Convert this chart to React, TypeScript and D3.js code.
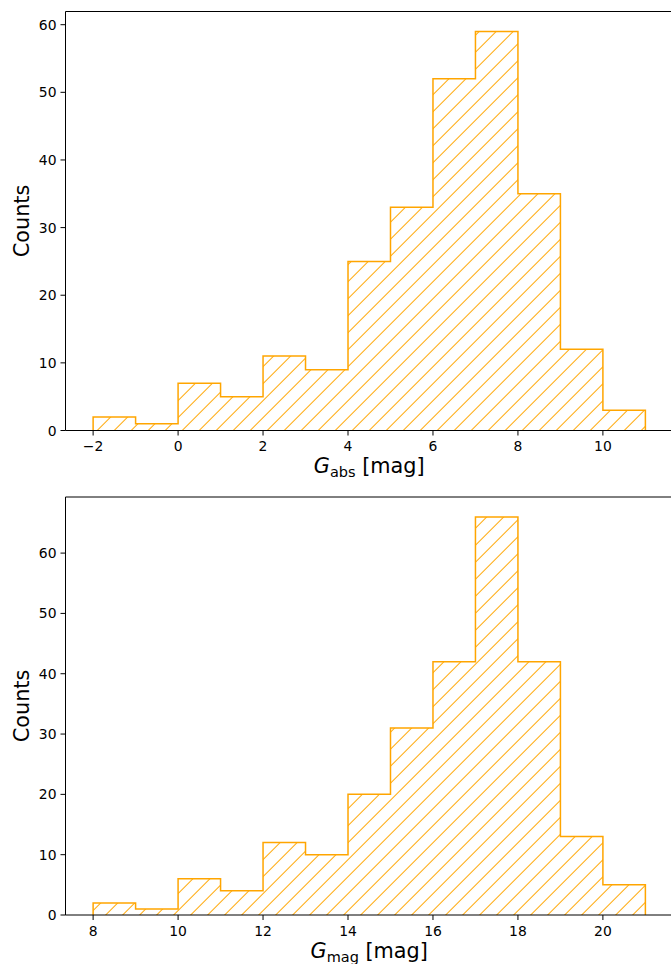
import React from "react";
import * as d3 from "d3";

// Top panel: absolute G magnitude histogram
const absEdges = [-2, -1, 0, 1, 2, 3, 4, 5, 6, 7, 8, 9, 10, 11];
const absCounts = [2, 1, 7, 5, 11, 9, 25, 33, 52, 59, 35, 12, 3];
const absXTicks = [-2, 0, 2, 4, 6, 8, 10];
const absYTicks = [0, 10, 20, 30, 40, 50, 60];

// Bottom panel: apparent G magnitude histogram
const magEdges = [8, 9, 10, 11, 12, 13, 14, 15, 16, 17, 18, 19, 20, 21];
const magCounts = [2, 1, 6, 4, 12, 10, 20, 31, 42, 66, 42, 13, 5];
const magXTicks = [8, 10, 12, 14, 16, 18, 20];
const magYTicks = [0, 10, 20, 30, 40, 50, 60];

const W = 671;
const H = 964;
const ORANGE = "#FFA500";
const FONT = "'DejaVu Sans', sans-serif";

type PanelProps = {
  edges: number[];
  counts: number[];
  xTicks: number[];
  yTicks: number[];
  top: number;
  bottom: number;
  sub: string;
};

function Panel({ edges, counts, xTicks, yTicks, top, bottom, sub }: PanelProps) {
  const left = 65.5;
  const right = 673;
  const lo = edges[0];
  const hi = edges[edges.length - 1];
  const m = (hi - lo) * 0.05;
  const x = d3.scaleLinear().domain([lo - m, hi + m]).range([left, right]);
  const ymax = d3.max(counts)! * 1.05;
  const y = d3.scaleLinear().domain([0, ymax]).range([bottom, top]);

  const pts: [number, number][] = [[x(edges[0]), y(0)]];
  counts.forEach((c, i) => {
    pts.push([x(edges[i]), y(c)]);
    pts.push([x(edges[i + 1]), y(c)]);
  });
  pts.push([x(hi), y(0)]);
  const line = d3.line();
  const d = line(pts)!;

  const cx = (left + right) / 2;
  const cy = (top + bottom) / 2;

  return (
    <g>
      <path d={d + "Z"} fill="url(#hatch)" stroke="none" />
      <path d={d} fill="none" stroke={ORANGE} strokeWidth={1.5} strokeLinejoin="miter" />
      {/* spines */}
      <line x1={left} x2={left} y1={top} y2={bottom} stroke="#000" strokeWidth={1} />
      <line x1={left} x2={right} y1={top} y2={top} stroke="#000" strokeWidth={1} />
      <line x1={left} x2={right} y1={bottom} y2={bottom} stroke="#000" strokeWidth={1} />
      {xTicks.map((t) => (
        <g key={"x" + t}>
          <line x1={x(t)} x2={x(t)} y1={bottom} y2={bottom + 5} stroke="#000" strokeWidth={1} />
          <text x={x(t)} y={bottom + 20.5} textAnchor="middle" fontSize={13.9} fontFamily={FONT} fill="#000">
            {t < 0 ? "\u2212" + Math.abs(t) : String(t)}
          </text>
        </g>
      ))}
      {yTicks.map((t) => (
        <g key={"y" + t}>
          <line x1={left - 5} x2={left} y1={y(t)} y2={y(t)} stroke="#000" strokeWidth={1} />
          <text x={left - 9} y={y(t) + 5} textAnchor="end" fontSize={13.9} fontFamily={FONT} fill="#000">
            {t}
          </text>
        </g>
      ))}
      <text x={cx} y={bottom + 42.5} textAnchor="middle" fontSize={20.8} fontFamily={FONT} fill="#000">
        <tspan fontStyle="italic">G</tspan>
        <tspan fontSize={14.5} dy={4}>{sub}</tspan>
        <tspan dy={-4}> [mag]</tspan>
      </text>
      <text
        transform={`translate(28.5,${cy}) rotate(-90)`}
        textAnchor="middle"
        fontSize={20.8}
        fontFamily={FONT}
        fill="#000"
      >
        Counts
      </text>
    </g>
  );
}

export default function App() {
  const period = 17 / Math.SQRT2;
  return (
    <svg
      width={W}
      height={H}
      style={{ position: "absolute", left: 0, top: 0, background: "#fff" }}
    >
      <defs>
        <pattern
          id="hatch"
          patternUnits="userSpaceOnUse"
          width={period}
          height={20}
          patternTransform="rotate(45)"
        >
          <rect x={0} y={0} width={1} height={20} fill={ORANGE} />
        </pattern>
      </defs>
      <rect x={0} y={0} width={W} height={H} fill="#fff" />
      <Panel edges={absEdges} counts={absCounts} xTicks={absXTicks} yTicks={absYTicks} top={11.5} bottom={430.5} sub="abs" />
      <Panel edges={magEdges} counts={magCounts} xTicks={magXTicks} yTicks={magYTicks} top={497} bottom={915} sub="mag" />
    </svg>
  );
}
